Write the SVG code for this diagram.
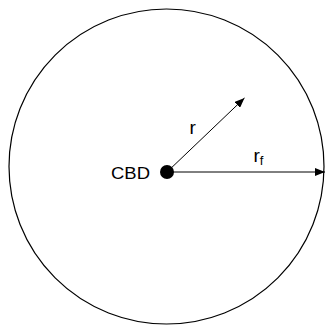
<svg xmlns="http://www.w3.org/2000/svg" width="326" height="326" viewBox="0 0 326 326">
<style>
  .lbl { font-family: "Liberation Sans", Arial, sans-serif; fill: #000; }
  .edge { stroke: #000; stroke-width: 1; fill: none; }
</style>
<defs>
  <marker id="ah" markerWidth="10" markerHeight="8" refX="10" refY="4" orient="auto" markerUnits="userSpaceOnUse">
    <path d="M0,0 L10,4 L0,8 Z" fill="#000"/>
  </marker>
</defs>
<rect width="326" height="326" fill="#fff"/>
<g id="boundary">
  <circle cx="166.5" cy="166.5" r="157.5" fill="none" stroke="#000" stroke-width="1.2"/>
</g>
<g id="connectors">
  <line class="edge" x1="167" y1="172" x2="244.5" y2="98" marker-end="url(#ah)"/>
  <line class="edge" x1="167" y1="172" x2="325" y2="172" marker-end="url(#ah)"/>
</g>
<g id="cbd">
  <circle cx="167" cy="172" r="7" fill="#000"/>
  <text class="lbl" x="150" y="179" font-size="17" text-anchor="end" textLength="39" lengthAdjust="spacingAndGlyphs">CBD</text>
</g>
<g id="label-r">
  <text class="lbl" x="189.5" y="134" font-size="19">r</text>
</g>
<g id="label-rf">
  <text class="lbl" x="253.5" y="162" font-size="19">r<tspan font-size="13" dy="3">f</tspan></text>
</g>
</svg>
